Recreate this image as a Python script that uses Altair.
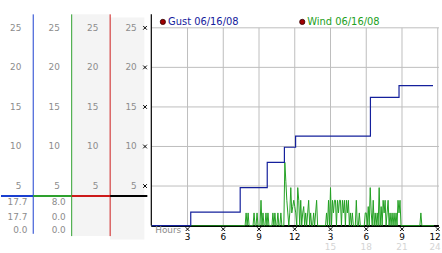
import altair as alt
import numpy as np
import pandas as pd

FONT = "DejaVu Sans"

# ---------------- data ----------------
# Gust: hour at which a new value starts, and the value (step line)
gust_hours = [0, 3.27, 7.42, 9.69, 11.13, 12.07, 18.35, 20.75, 23.6]
gust_values = [0, 1.7, 4.8, 8.0, 9.9, 11.3, 16.2, 17.7, 17.7]

# Wind: 5-minute samples, one row per hour
wind_by_hour = [
    [0, 0, 0, 0, 0, 0, 0, 0, 0, 0, 0, 0],                      # 0
    [0, 0, 0, 0, 0, 0, 0, 0, 0, 0, 0, 0],                      # 1
    [0, 0, 0, 0, 0, 0, 0, 0, 0, 0, 0, 0],                      # 2
    [0, 0, 0, 0, 0, 0, 0, 0, 0, 0, 0, 0],                      # 3
    [0, 0, 0, 0, 0, 0, 0, 0, 0, 0, 0, 0],                      # 4
    [0, 0, 0, 0, 0, 0, 0, 0, 0, 0, 0, 0],                      # 5
    [0, 0, 0, 0, 0, 0, 0, 0, 0, 0, 0, 0],                      # 6
    [0, 0, 0, 0, 0, 0, 0, 0, 0, 0, 0, 1.6],                    # 7
    [0, 1.6, 0, 0, 0, 0, 0, 1.6, 0, 0, 1.6, 0],                # 8
    [0, 0, 3.2, 0, 1.6, 0, 0, 1.6, 0, 1.6, 0, 0],              # 9
    [0, 0, 1.6, 0, 1.6, 0, 0, 1.6, 0, 0, 1.6, 0],              # 10
    [0, 0, 8.0, 5.6, 3.2, 1.6, 0, 1.6, 4.8, 1.6, 2.4, 3.2],    # 11
    [2.4, 1.6, 0, 4.8, 3.2, 0, 3.2, 0, 1.6, 2.4, 0, 1.6],      # 12
    [0, 1.6, 3.2, 0, 1.6, 0, 0, 1.6, 0, 1.6, 3.2, 0],          # 13
    [0, 0, 0, 0, 0, 0, 0, 0, 1.6, 0, 3.2, 0],                  # 14
    [4.8, 0, 3.2, 1.6, 3.2, 3.2, 0, 3.2, 1.6, 3.2, 3.2, 0],    # 15
    [3.2, 1.6, 3.2, 0, 3.2, 1.6, 3.2, 0, 1.6, 0, 1.6, 0],      # 16
    [0, 0, 3.2, 0, 0, 1.6, 0, 0, 0, 0, 0, 1.6],                # 17
    [1.6, 0, 2.4, 0, 4.8, 1.6, 0, 3.2, 0, 1.6, 0, 1.6],        # 18
    [0, 4.8, 0, 2.4, 0, 3.2, 1.6, 3.2, 0, 1.6, 3.2, 0],        # 19
    [1.6, 0, 1.6, 0, 1.6, 0, 1.6, 0, 3.2, 1.6, 3.2, 0],        # 20
    [0, 0, 0, 0, 0, 0, 0, 0, 0, 0, 0, 0],                      # 21
    [0, 0, 0, 0, 0, 0, 0, 1.6, 0, 0, 0, 0],                    # 22
    [0, 0, 0, 0, 0, 0, 0, 0, 0],                               # 23 (ends 23:40)
]

y_levels = [5, 10, 15, 20, 25]
tick_hours = [3, 6, 9, 12, 15, 18, 21, 24]
tick_labels = ["3", "6", "9", "12", "3", "6", "9", "12"]
tick_hours2 = [15, 18, 21, 24]
tick_labels2 = ["15", "18", "21", "24"]
legend_names = ["Gust 06/16/08", "Wind 06/16/08"]
legend_colors = ["#14209c", "#22a022"]

# left panel columns
col_ids = [1, 2, 3, 4]
col_colors = ["#1a3fd0", "#2ea02e", "#cc1a1a", "#000000"]

# ---------------- frames ----------------
wind_vals = [v for row in wind_by_hour for v in row]
wind_df = pd.DataFrame({"t": np.arange(len(wind_vals)) / 12.0, "v": wind_vals})
gust_df = pd.DataFrame({"t": gust_hours, "v": gust_values})

gust_stats = [max(gust_values), gust_values[-1], min(gust_values)]
wind_stats = [max(wind_vals), wind_vals[-1], min(wind_vals)]

y_sc = alt.Scale(domain=[-3.2875, 28.3375], nice=False, zero=False)
x_sc = alt.Scale(domain=[-0.1245, 24.274], nice=False, zero=False)
lx_sc = alt.Scale(domain=[0.162, 3.967], nice=False, zero=False)


def X(f, sc):
    return alt.X(f, type="quantitative", scale=sc, axis=None)


def Y(f):
    return alt.Y(f, type="quantitative", scale=y_sc, axis=None)


NOCOL = alt.Color("c:N", scale=None, legend=None)

# ---------------- left panel ----------------
gray_df = pd.DataFrame({"x": [2, 3], "x2": [3, 3.89], "y": [-1.33, -1.75], "y2": [26.7, 26.3]})
gray = alt.Chart(gray_df).mark_rect(color="#f4f4f4").encode(
    x=X("x", lx_sc), x2="x2", y=Y("y"), y2="y2")

crule_df = pd.DataFrame({"x": col_ids[:3], "y": [-1.04, -1.33, -1.33], "y2": [26.7, 26.7, 26.7],
                         "c": col_colors[:3]})
crules = alt.Chart(crule_df).mark_rule(strokeWidth=1).encode(
    x=X("x", lx_sc), y=Y("y"), y2="y2", color=NOCOL)

seg_df = pd.DataFrame({"x": [0.162, 1, 2, 3], "x2": [1, 2, 3, 3.967], "y": [3.75] * 4, "c": col_colors})
segs = alt.Chart(seg_df).mark_rule(strokeWidth=2).encode(
    x=X("x", lx_sc), x2="x2", y=Y("y"), color=NOCOL)

lab_rows = [{"x": c - 0.308, "y": lv, "t": str(lv)} for c in col_ids for lv in y_levels]
col_labels = alt.Chart(pd.DataFrame(lab_rows)).mark_text(
    align="right", baseline="middle", font=FONT, fontSize=9, color="#8c8c8c").encode(
    x=X("x", lx_sc), y=Y("y"), text="t:N")

stat_y = [2.92, 1.09, -0.625]
stat_rows = [{"x": 0.846, "y": stat_y[i], "t": f"{gust_stats[i]:.1f}"} for i in range(3)] + \
            [{"x": 1.846, "y": stat_y[i], "t": f"{wind_stats[i]:.1f}"} for i in range(3)]
stats = alt.Chart(pd.DataFrame(stat_rows)).mark_text(
    align="right", baseline="middle", font=FONT, fontSize=9, color="#8c8c8c").encode(
    x=X("x", lx_sc), y=Y("y"), text="t:N")

XSHAPE = "M-1,-1L1,1M-1,1L1,-1M0,-1L0,-1M0,1L0,1"
ytick_df = pd.DataFrame({"x": [3.907] * len(y_levels), "y": y_levels})
yticks = alt.Chart(ytick_df).mark_point(shape=XSHAPE, size=14, filled=False, stroke="#000000",
                                         strokeWidth=1, opacity=1).encode(
    x=X("x", lx_sc), y=Y("y"))

left = alt.layer(gray, crules, segs, col_labels, stats, yticks).properties(width=148, height=253)

# ---------------- main panel ----------------
hgrid_df = pd.DataFrame({"y": y_levels, "x": [-0.04] * 5, "x2": [24.1] * 5})
hgrid = alt.Chart(hgrid_df).mark_rule(color="#bdbdbd", strokeWidth=1).encode(
    x=X("x", x_sc), x2="x2", y=Y("y"))

vgrid_df = pd.DataFrame({"x": tick_hours, "y": [0] * 8, "y2": [25] * 8})
vgrid = alt.Chart(vgrid_df).mark_rule(color="#bdbdbd", strokeWidth=1).encode(
    x=X("x", x_sc), y=Y("y"), y2="y2")

yaxis_df = pd.DataFrame({"x": [-0.04], "y": [0], "y2": [26.7]})
yaxis = alt.Chart(yaxis_df).mark_rule(color="#000000", strokeWidth=1.2).encode(
    x=X("x", x_sc), y=Y("y"), y2="y2")

xaxis_df = pd.DataFrame({"x": [-0.04], "x2": [24.1], "y": [-0.06]})
xaxis = alt.Chart(xaxis_df).mark_rule(color="#000000", strokeWidth=2).encode(
    x=X("x", x_sc), x2="x2", y=Y("y"))

wind = alt.Chart(wind_df).mark_line(color="#22a022", strokeWidth=1, interpolate="linear").encode(
    x=X("t", x_sc), y=Y("v"))
gust = alt.Chart(gust_df).mark_line(color="#14209c", strokeWidth=1.2, interpolate="step-after").encode(
    x=X("t", x_sc), y=Y("v"))

xt_df = pd.DataFrame({"x": tick_hours, "y": [-0.45] * 8})
xticks = alt.Chart(xt_df).mark_point(shape=XSHAPE, size=14, filled=False, stroke="#000000",
                                      strokeWidth=1, opacity=1).encode(
    x=X("x", x_sc), y=Y("y"))

xl_df = pd.DataFrame({"x": tick_hours, "y": [-1.45] * 8, "t": tick_labels})
xlabels = alt.Chart(xl_df.iloc[:-1]).mark_text(
    align="center", baseline="middle", font=FONT, fontSize=9, color="#000000").encode(
    x=X("x", x_sc), y=Y("y"), text="t:N")
xlabel_last = alt.Chart(xl_df.iloc[-1:]).mark_text(
    align="right", baseline="middle", font=FONT, fontSize=9, color="#000000", dx=3).encode(
    x=X("x", x_sc), y=Y("y"), text="t:N")

xl2_df = pd.DataFrame({"x": tick_hours2, "y": [-2.72] * 4, "t": tick_labels2})
xlabels2 = alt.Chart(xl2_df.iloc[:-1]).mark_text(
    align="center", baseline="middle", font=FONT, fontSize=9, color="#d4d4d4").encode(
    x=X("x", x_sc), y=Y("y"), text="t:N")
xlabel2_last = alt.Chart(xl2_df.iloc[-1:]).mark_text(
    align="right", baseline="middle", font=FONT, fontSize=9, color="#d4d4d4", dx=3).encode(
    x=X("x", x_sc), y=Y("y"), text="t:N")

hours_df = pd.DataFrame({"x": [0.29], "y": [-0.625], "t": ["Hours"]})
hours_lbl = alt.Chart(hours_df).mark_text(
    align="left", baseline="middle", font=FONT, fontSize=9, color="#8c8c8c").encode(
    x=X("x", x_sc), y=Y("y"), text="t:N")

leg_df = pd.DataFrame({"dx": [0.93, 12.63], "tx": [1.37, 13.05], "y": [25.75, 25.75],
                       "t": legend_names, "c": legend_colors})
leg_dots = alt.Chart(leg_df).mark_point(filled=True, size=28, color="#a00000", stroke="#300000",
                                         strokeWidth=0.8, opacity=1).encode(
    x=X("dx", x_sc), y=Y("y"))
leg_text = alt.Chart(leg_df).mark_text(
    align="left", baseline="middle", font=FONT, fontSize=10).encode(
    x=X("tx", x_sc), y=Y("y"), text="t:N", color=NOCOL)

main = alt.layer(hgrid, vgrid, xaxis, yaxis, wind, gust, xticks, xlabels, xlabel_last,
                 xlabels2, xlabel2_last, hours_lbl, leg_dots, leg_text).properties(width=294, height=253)

chart = alt.hconcat(left, main, spacing=0).properties(
    padding=0, background="#ffffff").configure_view(stroke=None)

chart.save("out.html", embed_options={"renderer": "svg", "actions": False})
